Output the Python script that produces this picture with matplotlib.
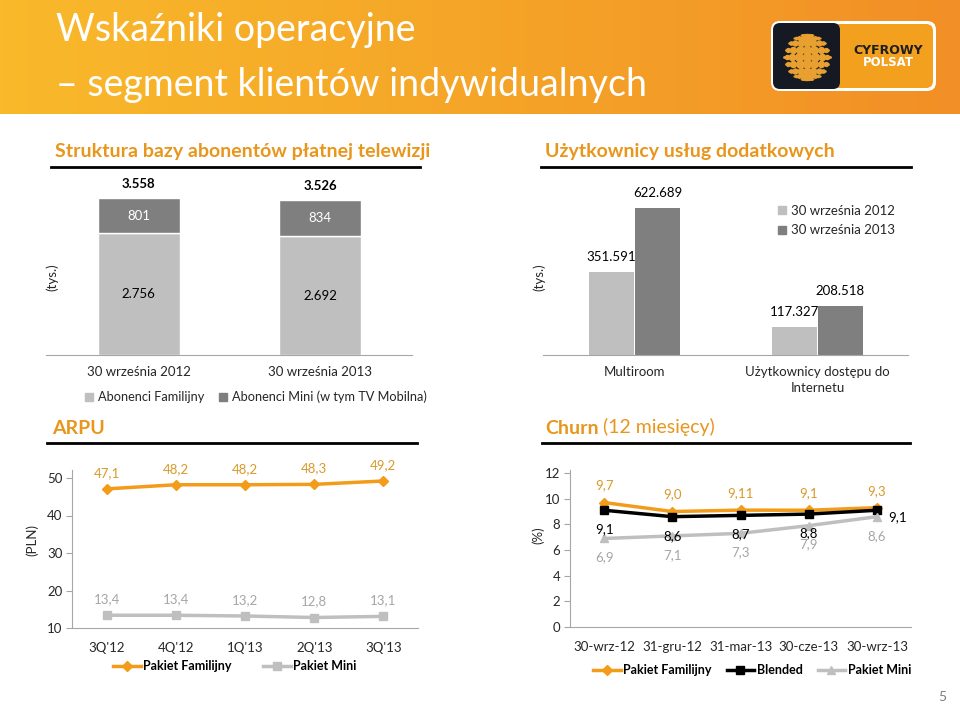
import numpy as np
import matplotlib
matplotlib.use('Agg')
import matplotlib.pyplot as plt
from matplotlib.patches import FancyBboxPatch
from matplotlib.lines import Line2D
from matplotlib.colors import LinearSegmentedColormap

plt.rcParams['font.family'] = ['Lato', 'DejaVu Sans']

# ---------------- data ----------------
sub_dates = ['30 września 2012', '30 września 2013']
sub_family = [2756, 2692]
sub_mini = [801, 834]
sub_total = [3558, 3526]

svc_cats = ['Multiroom', 'Użytkownicy dostępu do\nInternetu']
svc_2012 = [351591, 117327]
svc_2013 = [622689, 208518]

arpu_q = ["3Q'12", "4Q'12", "1Q'13", "2Q'13", "3Q'13"]
arpu_family = [47.1, 48.2, 48.2, 48.3, 49.2]
arpu_mini = [13.4, 13.4, 13.2, 12.8, 13.1]

churn_dates = ['30-wrz-12', '31-gru-12', '31-mar-13', '30-cze-13', '30-wrz-13']
churn_family = [9.7, 9.0, 9.11, 9.1, 9.3]
churn_blended = [9.1, 8.6, 8.7, 8.8, 9.1]
churn_mini = [6.9, 7.1, 7.3, 7.9, 8.6]

# ---------------- helpers ----------------
W, H = 960, 705
fig = plt.figure(figsize=(9.6, 7.05), dpi=100)
fig.patch.set_facecolor('white')

def rect(x0, y0, x1, y1):
    return [x0 / W, 1 - y1 / H, (x1 - x0) / W, (y1 - y0) / H]

def fx(x):
    return x / W

def fy(y):
    return 1 - y / H

def thou(v):
    return f"{v:,}".replace(',', '.')

def dec(v):
    return f"{v}".replace('.', ',')

def px(p):
    return p * 0.72  # pixels -> points

LIGHT = '#BFBFBF'
DARK = '#7F7F7F'
ORANGE = '#F39C1A'
ORANGE_TXT = '#D99A2A'
HEAD = '#E8961C'
AXC = '#A6A6A6'
TXT = '#262626'

# ---------------- header ----------------
axh = fig.add_axes(rect(0, 0, 960, 114))
cmap = LinearSegmentedColormap.from_list('hdr', ['#F9B92B', '#F5A528', '#F28F26'])
axh.imshow(np.linspace(0, 1, 256)[None, :], aspect='auto', cmap=cmap,
           extent=(0, 1, 0, 1))
axh.set_axis_off()
fig.text(fx(56), fy(30), 'Wskaźniki operacyjne', color='white', fontsize=27,
         va='center', ha='left')
fig.text(fx(56), fy(85), '– segment klientów indywidualnych', color='white',
         fontsize=27, va='center', ha='left')

# logo
axl = fig.add_axes(rect(768, 18, 938, 94))
axl.set_xlim(768, 938)
axl.set_ylim(94, 18)
axl.set_axis_off()
axl.add_patch(FancyBboxPatch((771, 21), 165, 70, boxstyle='round,pad=0,rounding_size=9',
                             fc='white', ec='none'))
axl.add_patch(FancyBboxPatch((774, 24), 159, 64, boxstyle='round,pad=0,rounding_size=7',
                             fc='#F2A01E', ec='none'))
axl.add_patch(FancyBboxPatch((773, 23), 67, 66, boxstyle='round,pad=0,rounding_size=7',
                             fc='#141923', ec='none'))
cx, cy, r = 807, 57, 23
for lat in np.linspace(-75, 75, 9):
    for lon in np.linspace(-80, 80, 9):
        la, lo = np.radians(lat), np.radians(lon)
        xx = cx + r * np.cos(la) * np.sin(lo)
        yy = cy - r * np.sin(la)
        s = 6 * np.cos(la) * np.cos(lo) + 1
        axl.plot(xx, yy, 'o', ms=s, color='#E8A030', mec='none')
axl.text(888, 51, 'CYFROWY', color='#1E1E1E', fontsize=9, fontweight='bold',
         ha='center', va='center', family='DejaVu Sans')
axl.text(888, 63, 'POLSAT', color='white', fontsize=8.5, fontweight='bold',
         ha='center', va='center', family='DejaVu Sans')

# ---------------- section headings ----------------
def heading(x, y, txt, lx0, lx1, ly):
    t = fig.text(fx(x), fy(y), txt, color=HEAD, fontsize=14, fontweight='bold',
                 va='center', ha='left')
    fig.add_artist(Line2D([fx(lx0), fx(lx1)], [fy(ly), fy(ly)], color='black', lw=2))
    return t

heading(55, 152, 'Struktura bazy abonentów płatnej telewizji', 51, 420, 167)
heading(545, 152, 'Użytkownicy usług dodatkowych', 541, 911, 167)
heading(52, 428, 'ARPU', 47, 417, 443)
tch = heading(545, 428, 'Churn', 542, 910, 443)
axdummy = fig.add_axes([0, 0, 0.001, 0.001])
axdummy.set_axis_off()
axdummy.annotate('(12 miesięcy)', xy=(1, 0), xycoords=tch, xytext=(3, 0),
                 textcoords='offset points', ha='left', va='bottom', color=HEAD,
                 fontsize=14)

# ---------------- chart 1: subscribers stacked ----------------
ax1 = fig.add_axes(rect(46, 175, 412, 355))
x = np.arange(len(sub_dates))
bw = 0.45
ax1.bar(x, sub_family, bw, color=LIGHT, ec='white', lw=1)
ax1.bar(x, sub_mini, bw, bottom=sub_family, color=DARK, ec='white', lw=1)
ax1.set_xlim(-0.511, 1.505)
ax1.set_ylim(0, 180 / 0.0441)
for s in ['top', 'right', 'left']:
    ax1.spines[s].set_visible(False)
ax1.spines['bottom'].set_color(AXC)
ax1.set_yticks([])
ax1.set_xticks(x)
ax1.set_xticklabels(sub_dates, fontsize=9.5, color=TXT)
ax1.tick_params(axis='x', length=0, pad=8)
for i in range(len(x)):
    ax1.annotate(thou(sub_total[i]), (x[i], sub_family[i] + sub_mini[i]),
                 xytext=(0, px(14)), textcoords='offset points', ha='center',
                 va='center', fontsize=9.5, fontweight='bold', color='black')
    ax1.text(x[i], sub_family[i] + sub_mini[i] / 2, thou(sub_mini[i]), ha='center',
             va='center', fontsize=9.5, color='white')
    ax1.text(x[i], sub_family[i] / 2, thou(sub_family[i]), ha='center',
             va='center', fontsize=9.5, color='black')
fig.text(fx(52), fy(277), '(tys.)', rotation=90, ha='center', va='center',
         fontsize=9.5, color=TXT)
h1 = [Line2D([], [], ls='none', marker='s', ms=6, color=LIGHT),
      Line2D([], [], ls='none', marker='s', ms=6, color=DARK)]
fig.legend(h1, ['Abonenci Familijny', 'Abonenci Mini (w tym TV Mobilna)'],
           loc='center', bbox_to_anchor=(fx(256), fy(397)), ncol=2, frameon=False,
           fontsize=9.2, handlelength=0.6, handletextpad=0.4, columnspacing=1.2,
           labelcolor=TXT)

# ---------------- chart 2: additional services ----------------
ax2 = fig.add_axes(rect(543, 175, 908, 355))
x = np.arange(len(svc_cats))
bw = 0.242
off = 0.126
ax2.bar(x - off, svc_2012, bw, color=LIGHT)
ax2.bar(x + off, svc_2013, bw, color=DARK)
ax2.set_xlim(-0.5, 1.495)
ax2.set_ylim(0, 180 / 0.000236)
for s in ['top', 'right', 'left']:
    ax2.spines[s].set_visible(False)
ax2.spines['bottom'].set_color(AXC)
ax2.set_yticks([])
ax2.set_xticks(x)
ax2.set_xticklabels(svc_cats, fontsize=9.5, color=TXT, linespacing=1.4)
ax2.tick_params(axis='x', length=0, pad=8)
for i in range(len(x)):
    ax2.annotate(thou(svc_2012[i]), (x[i] - off, svc_2012[i]), xytext=(0, px(15)),
                 textcoords='offset points', ha='center', va='center', fontsize=9.5,
                 color='black')
    ax2.annotate(thou(svc_2013[i]), (x[i] + off, svc_2013[i]), xytext=(0, px(15)),
                 textcoords='offset points', ha='center', va='center', fontsize=9.5,
                 color='black')
fig.text(fx(539), fy(277), '(tys.)', rotation=90, ha='center', va='center',
         fontsize=9.5, color=TXT)
h2 = [Line2D([], [], ls='none', marker='s', ms=6, color=LIGHT),
      Line2D([], [], ls='none', marker='s', ms=6, color=DARK)]
fig.legend(h2, ['30 września 2012', '30 września 2013'], loc='upper left',
           bbox_to_anchor=(fx(766), fy(193)), frameon=False, fontsize=9.5,
           handlelength=0.6, handletextpad=0.4, labelspacing=0.55, labelcolor=TXT)

# ---------------- chart 3: ARPU ----------------
ax3 = fig.add_axes(rect(72, 470, 418, 628))
x = np.arange(len(arpu_q))
ax3.plot(x, arpu_family, color=ORANGE, lw=2.5, marker='D', ms=5)
ax3.plot(x, arpu_mini, color=LIGHT, lw=2.5, marker='s', ms=6)
ax3.set_xlim(-0.5, 4.5)
ax3.set_ylim(10, 10 + 158 / 3.75)
ax3.set_yticks([10, 20, 30, 40, 50])
ax3.set_xticks(x)
ax3.set_xticklabels(arpu_q)
for s in ['top', 'right']:
    ax3.spines[s].set_visible(False)
ax3.spines['left'].set_color(AXC)
ax3.spines['bottom'].set_color(AXC)
ax3.tick_params(axis='y', length=4, color=AXC, labelsize=9.5, labelcolor=TXT, pad=3)
ax3.tick_params(axis='x', length=0, labelsize=9.5, labelcolor=TXT, pad=10)
for i in range(len(x)):
    ax3.annotate(dec(arpu_family[i]), (x[i], arpu_family[i]), xytext=(0, px(16)),
                 textcoords='offset points', ha='center', va='center', fontsize=9.5,
                 color=ORANGE_TXT)
    ax3.annotate(dec(arpu_mini[i]), (x[i], arpu_mini[i]), xytext=(0, px(16)),
                 textcoords='offset points', ha='center', va='center', fontsize=9.5,
                 color=AXC)
fig.text(fx(32), fy(540), '(PLN)', rotation=90, ha='center', va='center',
         fontsize=9.5, color=TXT)
h3 = [Line2D([], [], color=ORANGE, lw=2.5, marker='D', ms=5),
      Line2D([], [], color=LIGHT, lw=2.5, marker='s', ms=6)]
fig.legend(h3, ['Pakiet Familijny', 'Pakiet Mini'], loc='center',
           bbox_to_anchor=(fx(235), fy(666)), ncol=2, frameon=False,
           prop={'size': 9, 'weight': 'bold'}, handlelength=2.2, handletextpad=0.2,
           columnspacing=2.5, labelcolor='black')

# ---------------- chart 4: churn ----------------
ax4 = fig.add_axes(rect(570, 470, 911, 627))
x = np.arange(len(churn_dates))
ax4.plot(x, churn_family, color=ORANGE, lw=2.5, marker='D', ms=5.5)
ax4.plot(x, churn_blended, color='black', lw=2.5, marker='s', ms=6)
ax4.plot(x, churn_mini, color=LIGHT, lw=2.5, marker='^', ms=6)
ax4.set_xlim(-0.5, 4.5)
ax4.set_ylim(0, 157 / 12.83)
ax4.set_yticks([0, 2, 4, 6, 8, 10, 12])
ax4.set_xticks(x)
ax4.set_xticklabels(churn_dates)
for s in ['top', 'right']:
    ax4.spines[s].set_visible(False)
ax4.spines['left'].set_color(AXC)
ax4.spines['bottom'].set_color(AXC)
ax4.tick_params(axis='y', length=4, color=AXC, labelsize=9.5, labelcolor=TXT, pad=3)
ax4.tick_params(axis='x', length=0, labelsize=9.5, labelcolor=TXT, pad=10)
n = len(x)
for i in range(n):
    ax4.annotate(dec(churn_family[i]), (x[i], churn_family[i]), xytext=(0, px(17)),
                 textcoords='offset points', ha='center', va='center', fontsize=9.5,
                 color=ORANGE_TXT)
    if i < n - 1:
        bxy = (0, px(-19))
    else:
        bxy = (px(21), px(-7))
    ax4.annotate(dec(churn_blended[i]), (x[i], churn_blended[i]), xytext=bxy,
                 textcoords='offset points', ha='center', va='center', fontsize=9.5,
                 color='black')
    ax4.annotate(dec(churn_mini[i]), (x[i], churn_mini[i]), xytext=(0, px(-19)),
                 textcoords='offset points', ha='center', va='center', fontsize=9.5,
                 color=AXC)
fig.text(fx(538), fy(535), '(%)', rotation=90, ha='center', va='center',
         fontsize=9.5, color=TXT)
h4 = [Line2D([], [], color=ORANGE, lw=2.5, marker='D', ms=5.5),
      Line2D([], [], color='black', lw=2.5, marker='s', ms=6),
      Line2D([], [], color=LIGHT, lw=2.5, marker='^', ms=6)]
fig.legend(h4, ['Pakiet Familijny', 'Blended', 'Pakiet Mini'], loc='center',
           bbox_to_anchor=(fx(752), fy(670)), ncol=3, frameon=False,
           prop={'size': 9, 'weight': 'bold'}, handlelength=2.2, handletextpad=0.2,
           columnspacing=1.2, labelcolor='black')

# page number
fig.text(fx(942), fy(697), '5', ha='center', va='center', fontsize=10, color='#7F7F7F')

fig.savefig('out.png', dpi=100)
